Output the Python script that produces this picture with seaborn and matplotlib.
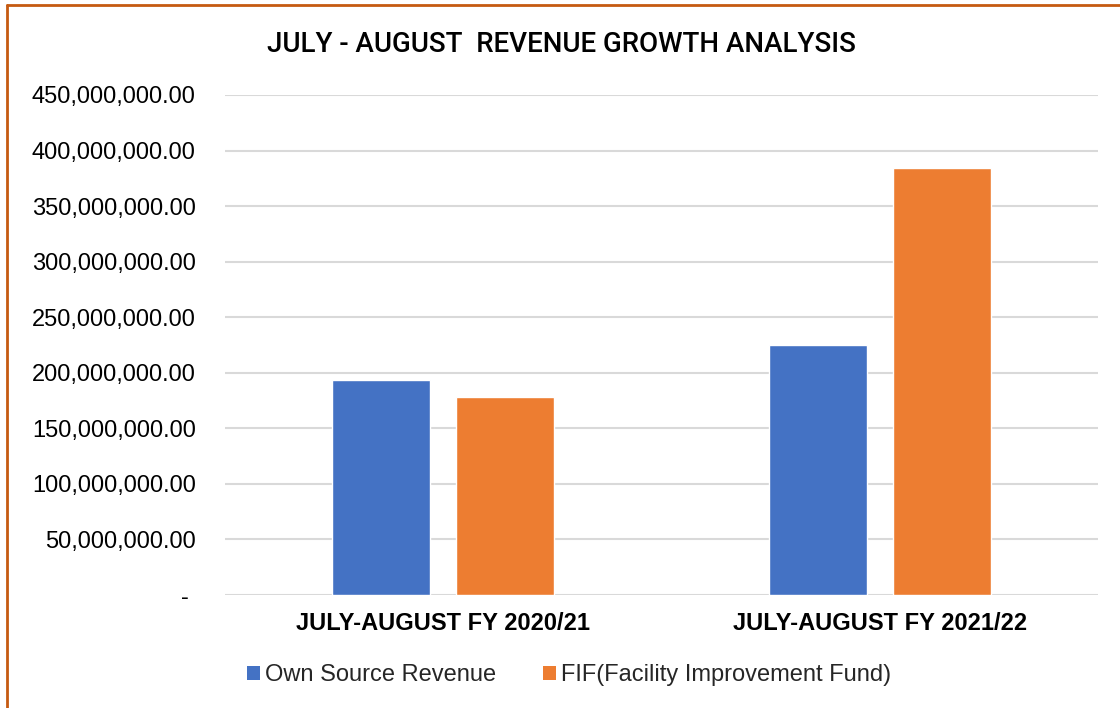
import matplotlib
matplotlib.use("Agg")
import matplotlib.pyplot as plt
from matplotlib.lines import Line2D
from matplotlib.patches import Patch
import seaborn as sns
import pandas as pd

categories = ["JULY-AUGUST FY 2020/21", "JULY-AUGUST FY 2021/22"]
series_names = ["Own Source Revenue", "FIF(Facility Improvement Fund)"]
own_source = [193_500_000, 225_000_000]
fif = [178_200_000, 384_000_000]
ytick_values = [0, 50e6, 100e6, 150e6, 200e6, 250e6, 300e6, 350e6, 400e6, 450e6]
ytick_labels = ["- ", "50,000,000.00", "100,000,000.00", "150,000,000.00", "200,000,000.00",
                "250,000,000.00", "300,000,000.00", "350,000,000.00", "400,000,000.00",
                "450,000,000.00"]
title = "JULY - AUGUST  REVENUE GROWTH ANALYSIS"
colors = ["#4472C4", "#ED7D31"]

df = pd.DataFrame({
    "category": categories * 2,
    "series": [series_names[0]] * 2 + [series_names[1]] * 2,
    "value": own_source + fif,
})

sns.set_theme(style="white")
plt.rcParams["font.family"] = ["Liberation Sans", "DejaVu Sans"]

fig = plt.figure(figsize=(11.2, 7.08), dpi=100)
ax = fig.add_axes([225 / 1120, 1 - 595 / 708, (1098 - 225) / 1120, 500 / 708])

sns.barplot(data=df, x="category", y="value", hue="series", order=categories,
            hue_order=series_names, palette=colors, width=0.57, gap=0.213,
            saturation=1, ax=ax, legend=False)

ax.set_ylim(0, 450e6)
ax.set_xlim(-0.5, 1.5)
ax.set_yticks(ytick_values)
ax.set_yticklabels(ytick_labels, fontsize=17, color="#000000")
ax.set_xticks(range(len(categories)))
ax.set_xticklabels(categories, fontsize=17, fontweight="bold", color="#000000")
ax.tick_params(axis="y", length=0, pad=21)
ax.tick_params(axis="x", length=0, pad=12)
ax.set_xlabel("")
ax.set_ylabel("")
ax.yaxis.grid(True, color="#D9D9D9", linewidth=1.5)
ax.set_axisbelow(True)
for s in ax.spines.values():
    s.set_visible(False)

fig.text(561.5 / 1120, 1 - 44 / 708, title, ha="center", va="center",
         fontsize=20, family=["Roboto", "Liberation Sans", "DejaVu Sans"],
         fontweight="medium", color="#000000")

handles = [Patch(facecolor=c, edgecolor="none") for c in colors]
fig.legend(handles, series_names, loc="center", bbox_to_anchor=(569 / 1120, 1 - 675 / 708),
           ncol=2, frameon=False, fontsize=17, handlelength=0.55, handleheight=0.55,
           handletextpad=0.2, columnspacing=2.0, borderpad=0, borderaxespad=0)

border = "#C55A11"
fig.add_artist(Line2D([6.5 / 1120, 6.5 / 1120], [0, 1 - 5 / 708], color=border,
                      linewidth=2, transform=fig.transFigure))
fig.add_artist(Line2D([6.5 / 1120, 1], [1 - 5 / 708, 1 - 5 / 708], color=border,
                      linewidth=2, transform=fig.transFigure))

fig.savefig("out.png", dpi=100)
